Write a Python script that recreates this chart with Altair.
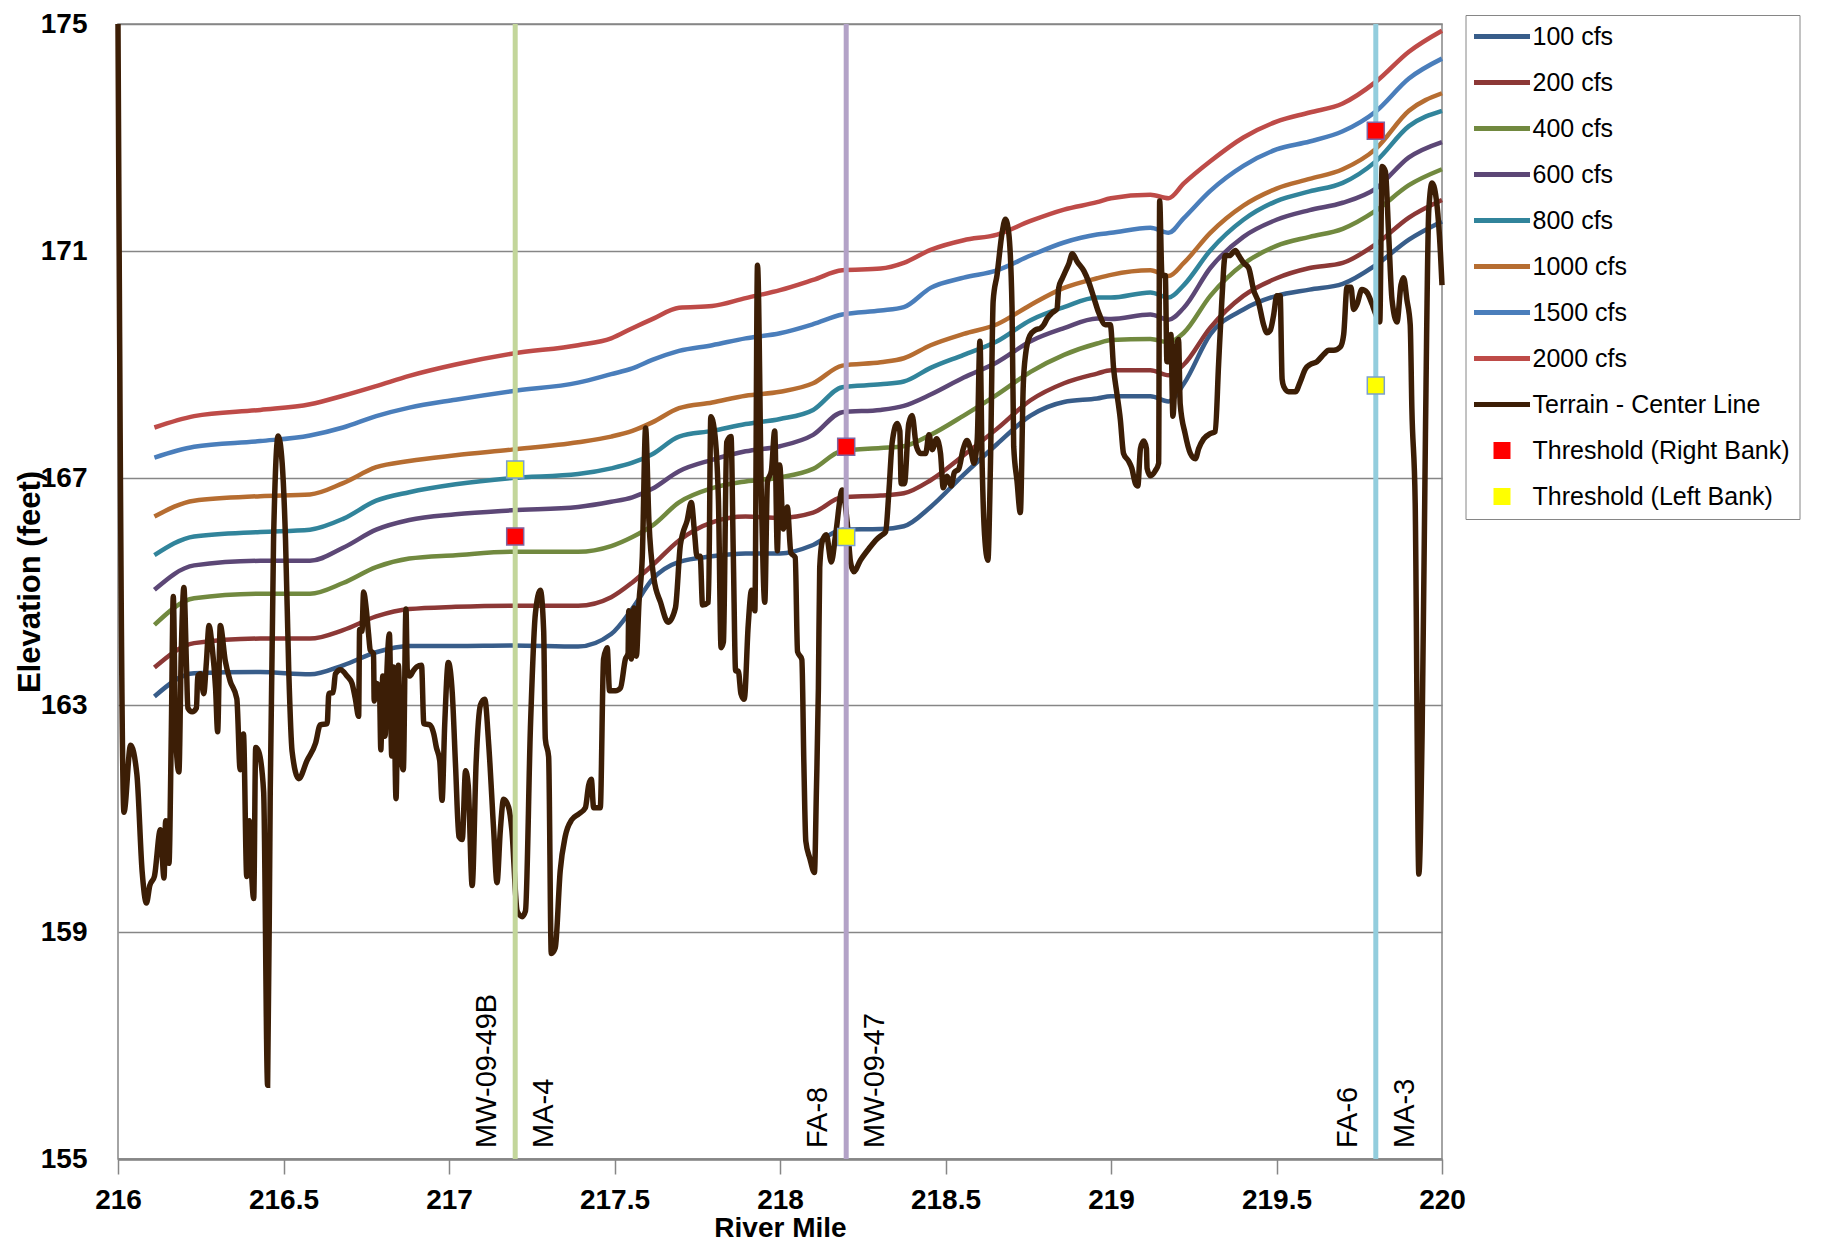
import altair as alt
import pandas as pd

FONT = "Liberation Sans"

# ---------------- data ----------------
flows = ["100 cfs", "200 cfs", "400 cfs", "600 cfs", "800 cfs",
         "1000 cfs", "1500 cfs", "2000 cfs"]
flow_colors = ["#385d8a", "#8c3836", "#71893f", "#5c4776", "#31849b",
               "#b66d31", "#4a7ebb", "#be4b48"]

ws_mile = [216.11, 216.23, 216.43, 216.58, 216.68, 216.78, 216.88, 217.02,
           217.19, 217.39, 217.49, 217.554, 217.614, 217.695, 217.795, 217.896,
           218.0, 218.1, 218.188, 218.304, 218.374, 218.455, 218.555, 218.656,
           218.757, 218.858, 218.958, 219.0, 219.119, 219.174, 219.22, 219.3,
           219.4, 219.5, 219.6, 219.7, 219.8, 219.9, 220.0]

ws_100 = [163.15, 163.56, 163.58, 163.54, 163.7, 163.93, 164.04, 164.04,
          164.05, 164.03, 164.25, 164.7, 165.21, 165.52, 165.62, 165.67,
          165.67, 165.82, 166.09, 166.1, 166.15, 166.49, 167.06, 167.6,
          168.1, 168.34, 168.4, 168.44, 168.44, 168.35, 168.66, 169.53,
          169.97, 170.21, 170.32, 170.42, 170.75, 171.2, 171.52]
ws_200 = [163.66, 164.09, 164.17, 164.17, 164.32, 164.56, 164.69, 164.73,
          164.75, 164.75, 164.9, 165.16, 165.46, 165.9, 166.22, 166.32,
          166.3, 166.39, 166.66, 166.69, 166.73, 166.96, 167.4, 167.87,
          168.37, 168.67, 168.84, 168.9, 168.9, 168.81, 169.0, 169.65,
          170.21, 170.52, 170.7, 170.79, 171.12, 171.59, 171.9]
ws_400 = [164.41, 164.88, 164.96, 164.96, 165.15, 165.43, 165.58, 165.64,
          165.7, 165.7, 165.8, 165.96, 166.16, 166.57, 166.82, 166.94,
          167.01, 167.16, 167.48, 167.53, 167.56, 167.76, 168.1, 168.47,
          168.87, 169.17, 169.37, 169.43, 169.45, 169.39, 169.56, 170.21,
          170.77, 171.09, 171.25, 171.39, 171.71, 172.16, 172.44]
ws_600 = [165.03, 165.46, 165.54, 165.54, 165.77, 166.09, 166.26, 166.36,
          166.43, 166.49, 166.58, 166.66, 166.81, 167.12, 167.32, 167.47,
          167.56, 167.76, 168.16, 168.2, 168.27, 168.47, 168.77, 169.04,
          169.41, 169.64, 169.81, 169.8, 169.88, 169.79, 170.0, 170.7,
          171.25, 171.55, 171.72, 171.85, 172.1, 172.65, 172.92]
ws_800 = [165.64, 165.97, 166.05, 166.09, 166.28, 166.6, 166.75, 166.89,
          167.0, 167.07, 167.17, 167.27, 167.42, 167.73, 167.83, 167.95,
          168.04, 168.2, 168.6, 168.65, 168.7, 168.94, 169.17, 169.41,
          169.78, 170.01, 170.18, 170.18, 170.27, 170.18, 170.4, 171.01,
          171.55, 171.88, 172.05, 172.2, 172.58, 173.2, 173.47]
ws_1000 = [166.32, 166.6, 166.68, 166.71, 166.91, 167.19, 167.3, 167.4,
           167.5, 167.63, 167.73, 167.83, 167.98, 168.23, 168.33, 168.45,
           168.52, 168.67, 168.98, 169.04, 169.11, 169.34, 169.54, 169.71,
           170.05, 170.35, 170.52, 170.58, 170.66, 170.56, 170.79, 171.32,
           171.8, 172.1, 172.27, 172.44, 172.8, 173.47, 173.78]
ws_1500 = [167.36, 167.55, 167.65, 167.75, 167.89, 168.09, 168.24, 168.38,
           168.53, 168.68, 168.83, 168.93, 169.08, 169.24, 169.34, 169.46,
           169.55, 169.71, 169.88, 169.95, 170.01, 170.35, 170.53, 170.66,
           170.92, 171.15, 171.29, 171.32, 171.41, 171.32, 171.58, 172.06,
           172.5, 172.79, 172.93, 173.11, 173.46, 174.04, 174.39]
ws_2000 = [167.89, 168.09, 168.2, 168.3, 168.45, 168.62, 168.8, 169.0,
           169.19, 169.34, 169.46, 169.64, 169.8, 170.0, 170.03, 170.17,
           170.31, 170.49, 170.66, 170.69, 170.79, 171.02, 171.19, 171.29,
           171.53, 171.73, 171.86, 171.93, 171.99, 171.93, 172.19, 172.58,
           173.0, 173.28, 173.44, 173.6, 173.98, 174.51, 174.88]
ws_values = [ws_100, ws_200, ws_400, ws_600, ws_800, ws_1000, ws_1500, ws_2000]

terrain_mile = [
    216.0, 216.018, 216.038, 216.057, 216.073, 216.086, 216.096, 216.110,
    216.128, 216.139, 216.144, 216.154, 216.161, 216.167, 216.174, 216.184,
    216.191, 216.199, 216.207, 216.211, 216.224, 216.237, 216.241, 216.249,
    216.259, 216.267, 216.275, 216.284, 216.295, 216.301, 216.309, 216.324,
    216.339, 216.359, 216.369, 216.379, 216.389, 216.397, 216.404, 216.410,
    216.416, 216.425, 216.440, 216.452, 216.460, 216.470, 216.484, 216.496,
    216.506, 216.516, 216.526, 216.546, 216.571, 216.597, 216.611, 216.632,
    216.637, 216.650, 216.657, 216.672, 216.692, 216.707, 216.717, 216.727,
    216.730, 216.737, 216.742, 216.750, 216.757, 216.762, 216.772, 216.774,
    216.782, 216.790, 216.794, 216.800, 216.807, 216.812, 216.820, 216.827,
    216.832, 216.840, 216.847, 216.854, 216.862, 216.870, 216.874, 216.882,
    216.892, 216.902, 216.917, 216.924, 216.942, 216.954, 216.962, 216.972,
    216.979, 216.987, 216.998,
    217.010, 217.020, 217.030, 217.040, 217.050, 217.058, 217.070, 217.082,
    217.095, 217.108, 217.120, 217.135, 217.145, 217.155, 217.165, 217.180,
    217.190, 217.206, 217.221, 217.231, 217.246, 217.261, 217.276, 217.286,
    217.291, 217.301, 217.309, 217.321, 217.336, 217.351, 217.371, 217.392,
    217.412, 217.422, 217.430, 217.437, 217.457, 217.467, 217.478, 217.485,
    217.503, 217.518, 217.533, 217.541, 217.543, 217.551, 217.559, 217.566,
    217.574, 217.584, 217.594, 217.604, 217.619, 217.639, 217.662, 217.684,
    217.699, 217.706, 217.719, 217.732, 217.742, 217.749, 217.759, 217.766,
    217.784, 217.791, 217.802, 217.814, 217.822, 217.829, 217.839, 217.852,
    217.859, 217.866, 217.874, 217.882, 217.892, 217.904, 217.914, 217.924,
    217.932, 217.944, 217.954, 217.962, 217.974, 217.984, 217.992, 217.999,
    218.010, 218.022, 218.033, 218.046, 218.053, 218.066, 218.072, 218.078,
    218.090, 218.104, 218.110, 218.116, 218.120, 218.128, 218.140, 218.155,
    218.168, 218.188, 218.203, 218.213, 218.223, 218.243, 218.268, 218.294,
    218.309, 218.319, 218.329, 218.339, 218.354, 218.362, 218.366, 218.376,
    218.389, 218.399, 218.412, 218.425, 218.440, 218.450, 218.460, 218.473,
    218.485, 218.493, 218.505, 218.517, 218.527, 218.540, 218.553, 218.565,
    218.576, 218.586, 218.596, 218.604, 218.611, 218.618, 218.628, 218.636,
    218.644, 218.656, 218.671, 218.681, 218.691, 218.701, 218.706, 218.716,
    218.726, 218.735, 218.742, 218.755, 218.772, 218.787, 218.797, 218.807,
    218.822, 218.837, 218.842, 218.853, 218.863, 218.873, 218.883, 218.898,
    218.918, 218.933, 218.948, 218.963, 218.983, 218.998,
    219.008, 219.018, 219.028, 219.038, 219.053, 219.063, 219.074, 219.081,
    219.089, 219.099, 219.107, 219.109, 219.119, 219.134, 219.144, 219.147,
    219.154, 219.164, 219.169, 219.177, 219.181, 219.187, 219.197, 219.204,
    219.209, 219.224, 219.240, 219.255, 219.265, 219.280, 219.300, 219.315,
    219.325, 219.335, 219.345, 219.358, 219.376, 219.386, 219.401, 219.416,
    219.431, 219.446, 219.461, 219.471, 219.481, 219.491, 219.501, 219.511,
    219.517, 219.522, 219.537, 219.557, 219.572, 219.587, 219.602, 219.622,
    219.643, 219.658, 219.673, 219.693, 219.703, 219.713, 219.725, 219.733,
    219.743, 219.758, 219.773, 219.789, 219.799, 219.812, 219.819, 219.829,
    219.839, 219.849, 219.864, 219.876, 219.884, 219.894, 219.904, 219.909,
    219.919, 219.930, 219.940, 219.950, 219.960, 219.970, 219.985, 219.995,
    220.0]
terrain_elev = [
    175.0, 161.11, 162.29, 161.78, 160.06, 159.51, 159.82, 159.98,
    160.8, 159.95, 160.96, 160.21, 162.49, 164.91, 162.49, 161.82,
    163.9, 165.07, 163.67, 162.95, 162.88, 162.95, 163.51, 163.55,
    163.2, 163.75, 164.4, 164.05, 163.27, 162.53, 164.4, 163.78,
    163.42, 163.11, 161.86, 162.49, 159.98, 160.96, 159.98, 159.59,
    162.25, 162.18, 161.47, 156.3, 161.5, 165.93, 167.74, 167.26,
    165.93, 163.58, 162.18, 161.7, 162.02, 162.33, 162.65, 162.67,
    163.2, 163.22, 163.55, 163.62, 163.51, 163.38, 163.11, 162.8,
    164.33, 164.3, 164.99, 164.69, 164.25, 163.97, 163.9, 163.07,
    163.38, 163.27, 162.21, 163.51, 162.45, 163.51, 164.25, 162.1,
    163.67, 161.35, 163.7, 162.3, 161.86, 164.69, 163.62, 163.51,
    163.6, 163.67, 163.7, 162.67, 162.65, 162.49, 162.25, 162.02,
    161.32, 162.65, 163.75,
    163.2, 161.9, 160.68, 160.63, 161.84, 161.59, 159.82, 161.99,
    163.0, 163.1, 162.3, 160.79, 159.87, 160.79, 161.34, 161.2,
    160.79, 159.37, 159.27, 159.37, 162.6, 164.61, 165.02, 164.31,
    162.4, 162.09, 158.62, 158.72, 160.08, 160.68, 160.98, 161.08,
    161.19, 161.59, 161.69, 161.19, 161.19, 163.81, 164.01, 163.25,
    163.25, 163.3, 163.81, 163.91, 164.66, 163.81, 164.71, 163.86,
    164.81, 165.62, 167.88, 166.24, 165.23, 164.81, 164.46, 164.71,
    165.82, 166.02, 166.24, 166.57, 166.02, 165.62, 165.62, 164.76,
    164.81, 168.08, 167.83, 166.61, 164.01, 164.11, 167.63, 167.73,
    165.62, 163.6, 163.6, 163.2, 163.1, 164.41, 165.02, 164.66,
    170.75, 166.61, 164.81, 166.93, 167.13, 167.83, 165.72, 167.23,
    166.1, 166.49, 165.68, 165.6, 163.94, 163.8, 162.0, 160.6,
    160.3, 160.05, 161.5, 163.3, 165.42, 165.89, 166.0, 165.52,
    166.0, 166.79, 166.22, 165.52, 165.35, 165.55, 165.75, 165.93,
    166.0, 166.05, 166.76, 167.63, 167.96, 167.83, 166.9, 166.9,
    167.96, 168.1, 167.56, 167.43, 167.43, 167.76, 167.5, 167.69,
    167.43, 166.83, 167.03, 166.86, 167.1, 167.16, 167.5, 167.66,
    167.5, 167.26, 167.69, 169.41, 167.16, 166.0, 165.55, 167.29,
    170.12, 170.59, 171.32, 171.56, 171.32, 170.0, 167.56, 166.95,
    166.39, 168.64, 169.18, 169.51, 169.61, 169.64, 169.7, 169.81,
    169.91, 169.98, 170.35, 170.52, 170.65, 170.78, 170.95, 170.81,
    170.65, 170.45, 170.18, 169.91, 169.7, 169.7,
    168.92, 168.48, 168.04, 167.43, 167.3, 167.17, 166.9, 166.86,
    167.52, 167.65, 167.52, 167.17, 167.04, 167.13, 167.26, 171.88,
    170.57, 170.57, 169.05, 169.05, 169.53, 168.09, 169.27, 169.44,
    168.31, 167.78, 167.43, 167.34, 167.52, 167.69, 167.78, 167.82,
    169.0, 170.14, 170.92, 170.92, 171.01, 170.92, 170.79, 170.7,
    170.31, 170.09, 169.7, 169.56, 169.6, 169.86, 170.21, 170.21,
    168.74, 168.61, 168.52, 168.52, 168.7, 168.92, 169.0, 169.05,
    169.18, 169.25, 169.25, 169.31, 169.53, 170.36, 170.36, 169.97,
    170.06, 170.32, 170.27, 170.06, 169.9, 169.75, 172.49, 172.4,
    171.27, 170.14, 169.75, 170.4, 170.53, 170.14, 169.7, 168.22,
    166.56, 160.02, 162.54, 167.78, 171.71, 172.2, 171.8, 171.0,
    170.4]

thr_mile = [217.2, 217.2, 218.2, 218.2, 219.8, 219.8]
thr_elev = [167.15, 165.97, 167.55, 165.96, 173.12, 168.63]
thr_series = ["Threshold (Left Bank)", "Threshold (Right Bank)",
              "Threshold (Right Bank)", "Threshold (Left Bank)",
              "Threshold (Right Bank)", "Threshold (Left Bank)"]

site_mile = [217.2, 218.2, 219.8]
site_color = ["#c3d69b", "#b3a2c7", "#93cddd"]
site_left = ["MW-09-49B", "FA-8", "FA-6"]
site_right = ["MA-4", "MW-09-47", "MA-3"]

x_ticks = [216, 216.5, 217, 217.5, 218, 218.5, 219, 219.5, 220]
y_ticks = [155, 159, 163, 167, 171, 175]

assert len(terrain_mile) == len(terrain_elev)
for v in ws_values:
    assert len(v) == len(ws_mile)

# ---------------- tables ----------------
TERRAIN = "Terrain - Center Line"
TERRAIN_COLOR = "#3c1e06"
RB = "Threshold (Right Bank)"
LB = "Threshold (Left Bank)"
series_domain = flows + [TERRAIN, RB, LB]
series_colors = flow_colors + [TERRAIN_COLOR, "#ff0000", "#ffff00"]
bank_fill = {RB: "#ff0000", LB: "#ffff00"}
bank_stroke = {RB: "#7f64a0", LB: "#7ba0cd"}

SYM = 400  # symbol size (20 px unit box)
LINE_PATH = "M-2.8,-0.24H2.8V0.24H-2.8Z"
SQ_PATH = "M-0.85,-0.85H0.85V0.85H-0.85Z"
shape_range = [LINE_PATH] * 9 + [SQ_PATH, SQ_PATH]

ws_rows = []
for name, vals in zip(flows, ws_values):
    for m, e in zip(ws_mile, vals):
        ws_rows.append({"mile": m, "elev": e, "series": name})
ws_df = pd.DataFrame(ws_rows)
terr_df = pd.DataFrame({"mile": terrain_mile, "elev": terrain_elev,
                        "series": TERRAIN})
thr_df = pd.DataFrame({"mile": thr_mile, "elev": thr_elev, "series": thr_series})
left_df = pd.DataFrame({"mile": site_mile, "text": site_left})
right_df = pd.DataFrame({"mile": site_mile, "text": site_right})

# ---------------- layout ----------------
PLOT_W, PLOT_H = 1324, 1135
PAD = {"left": 110, "top": 16, "right": 374, "bottom": 87}

# ---------------- scales / axes ----------------
xscale = alt.Scale(domain=[216, 220], nice=False, zero=False)
yscale = alt.Scale(domain=[155, 175], nice=False, zero=False)
cscale = alt.Scale(domain=series_domain, range=series_colors)
sscale = alt.Scale(domain=series_domain, range=shape_range)
lscale = alt.Scale(domain=flows + [TERRAIN], range=flow_colors + [TERRAIN_COLOR])

x_axis = alt.Axis(values=x_ticks, format="~f", grid=False, ticks=True,
                  tickSize=15, tickColor="#868686", tickWidth=1.5,
                  domain=True, domainColor="#868686", domainWidth=2.5,
                  labelFont=FONT, labelFontSize=28, labelFontWeight="bold",
                  labelColor="black", labelPadding=12, labelFlush=False,
                  labelOverlap=False, title="River Mile", titleFont=FONT,
                  titleFontSize=28, titleFontWeight="bold", titleColor="black",
                  titlePadding=0)
y_axis = alt.Axis(values=y_ticks, format="d", grid=True, gridColor="#868686",
                  gridWidth=1.5, ticks=False, domain=False,
                  labelFont=FONT, labelFontSize=28, labelFontWeight="bold",
                  labelColor="black", labelPadding=31, labelOverlap=False,
                  title="Elevation (feet)", titleFont=FONT, titleFontSize=31,
                  titleFontWeight="bold", titleColor="black", titlePadding=-6,
                  titleY=PLOT_H / 2 - 10)

legend = alt.Legend(title=None, orient="none", legendX=1347.5, legendY=-9,
                    padding=9, strokeColor="#868686", fillColor="white",
                    symbolSize=SYM, symbolStrokeWidth=0, symbolOpacity=1,
                    symbolOffset=15, labelOffset=18,
                    labelFont=FONT, labelFontSize=25, labelColor="black",
                    labelLimit=0, rowPadding=20)

X = alt.X("mile:Q", scale=xscale)
Y = alt.Y("elev:Q", scale=yscale)

# ---------------- layers ----------------
water = alt.Chart(ws_df).mark_line(strokeWidth=4.5, interpolate="monotone").encode(
    x=alt.X("mile:Q", scale=xscale, axis=x_axis),
    y=alt.Y("elev:Q", scale=yscale, axis=y_axis),
    stroke=alt.Stroke("series:N", scale=lscale, legend=None),
    detail="series:N",
)

terrain = alt.Chart(terr_df).mark_line(strokeWidth=5.5, interpolate="monotone").encode(
    x=X, y=Y,
    stroke=alt.Stroke("series:N", scale=lscale, legend=None),
)

rule_layers = []
for m, c in zip(site_mile, site_color):
    rule_layers.append(
        alt.Chart(pd.DataFrame({"mile": [m]})).mark_rule(strokeWidth=5, color=c).encode(x=X)
    )

thr_legend = alt.Chart(thr_df).mark_point(filled=True, opacity=1, size=SYM).encode(
    x=X, y=Y,
    color=alt.Color("series:N", scale=cscale, legend=legend),
    shape=alt.Shape("series:N", scale=sscale, legend=legend),
)

thr_marks = []
for bank in [RB, LB]:
    thr_marks.append(
        alt.Chart(thr_df).transform_filter(alt.datum.series == bank).mark_point(
            filled=True, opacity=1, size=SYM, shape=SQ_PATH, strokeWidth=1.5,
            fill=bank_fill[bank], stroke=bank_stroke[bank]).encode(x=X, y=Y)
    )

left_text = alt.Chart(left_df).mark_text(angle=270, align="left", baseline="middle",
                                         dx=11, dy=-28, font=FONT, fontSize=29,
                                         color="black").encode(
    x=X, y=alt.datum(155), text="text:N",
)
right_text = alt.Chart(right_df).mark_text(angle=270, align="left", baseline="middle",
                                           dx=11, dy=29, font=FONT, fontSize=29,
                                           color="black").encode(
    x=X, y=alt.datum(155), text="text:N",
)

chart = alt.layer(water, terrain, *rule_layers, thr_legend, *thr_marks,
                  left_text, right_text).properties(
    width=PLOT_W, height=PLOT_H,
    padding=PAD,
    autosize=alt.AutoSizeParams(type="none"),
).configure_view(stroke="#868686", strokeWidth=1.5)

chart.save("out.html", embed_options={"renderer": "svg", "actions": False})
